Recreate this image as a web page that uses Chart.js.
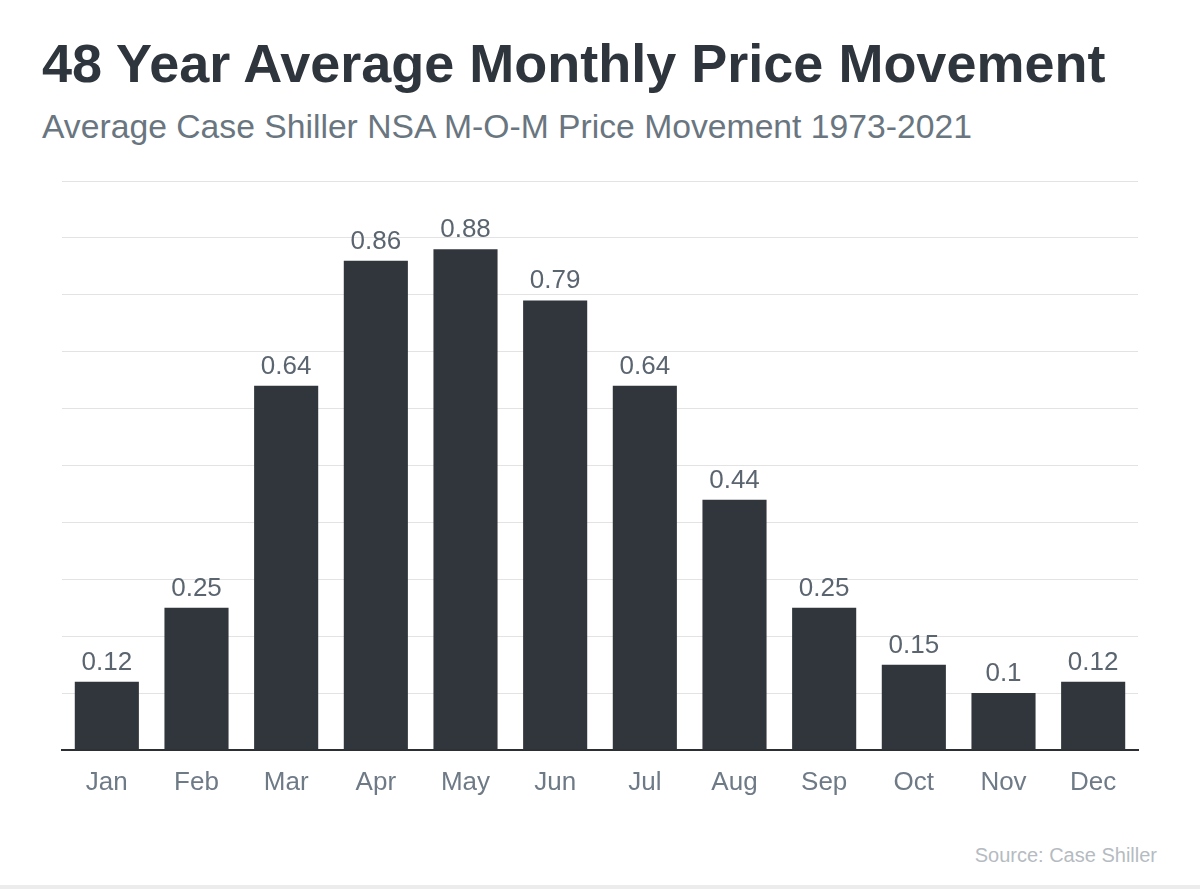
<!DOCTYPE html>
<html>
<head>
<meta charset="utf-8">
<script src="https://cdn.jsdelivr.net/npm/chart.js@4/dist/chart.umd.min.js"></script>
<style>
  html, body { margin: 0; padding: 0; background: #fff; }
  body { width: 1200px; height: 889px; position: relative; overflow: hidden; font-family: "Liberation Sans", Arial, sans-serif; }
  .title { position: absolute; left: 42px; top: 36px; font-size: 54px; line-height: 1; font-weight: bold; color: #2f353c; white-space: nowrap; }
  .subtitle { position: absolute; left: 42px; top: 110px; font-size: 33.7px; line-height: 1; color: #6a767f; white-space: nowrap; }
  .source { position: absolute; right: 43px; top: 845px; font-size: 20px; line-height: 1; color: #b5bbc1; white-space: nowrap; }
  .edge { position: absolute; left: 0; right: 0; bottom: 0; height: 4px; background: #ececec; }
  #wrap { position: absolute; left: 0; top: 160px; width: 1200px; height: 680px; }
</style>
</head>
<body>
<div class="title">48 Year Average Monthly Price Movement</div>
<div class="subtitle">Average Case Shiller NSA M-O-M Price Movement 1973-2021</div>
<div id="wrap"><canvas id="chart"></canvas></div>
<div class="source">Source: Case Shiller</div>
<div class="edge"></div>
<script>
// datos
const months = ['Jan', 'Feb', 'Mar', 'Apr', 'May', 'Jun', 'Jul', 'Aug', 'Sep', 'Oct', 'Nov', 'Dec'];
const avgMove = [0.12, 0.25, 0.64, 0.86, 0.88, 0.79, 0.64, 0.44, 0.25, 0.15, 0.1, 0.12];

// etiquetas encima de cada barra
const barLabels = {
    id: 'barLabels',
    afterDatasetsDraw(chart) {
        const ctx = chart.ctx;
        const meta = chart.getDatasetMeta(0);
        ctx.save();
        ctx.font = '26px "Liberation Sans", Arial, sans-serif';
        ctx.fillStyle = '#5b6570';
        ctx.textAlign = 'center';
        ctx.textBaseline = 'alphabetic';
        meta.data.forEach((bar, i) => {
            ctx.fillText(String(avgMove[i]), bar.x, bar.y - 12);
        });
        ctx.restore();
    }
};

const chart = new Chart(document.getElementById('chart'), {
    type: 'bar',
    data: {
        labels: months,
        datasets: [{
            data: avgMove,
            backgroundColor: '#31363d',
            borderWidth: 0,
            barPercentage: 0.715,
            categoryPercentage: 1
        }]
    },
    options: {
        responsive: true,
        maintainAspectRatio: false,
        animation: false,
        layout: { padding: { left: 62, right: 62, top: 21, bottom: 30 } },
        plugins: { legend: { display: false }, tooltip: { enabled: false } },
        scales: {
            x: {
                grid: { display: false, drawTicks: false },
                border: { display: true, color: '#2b2f33', width: 2 },
                ticks: { color: '#6f7a87', font: { family: '"Liberation Sans", Arial, sans-serif', size: 26 }, padding: 17 },
                afterFit: s => { s.height = 60; }
            },
            y: {
                min: 0, max: 1,
                ticks: { display: false, stepSize: 0.1 },
                grid: { color: '#e3e3e3', lineWidth: 1, drawTicks: false },
                border: { display: false },
                afterFit: s => { s.width = 0; }
            }
        }
    },
    plugins: [barLabels]
});
</script>
</body>
</html>
